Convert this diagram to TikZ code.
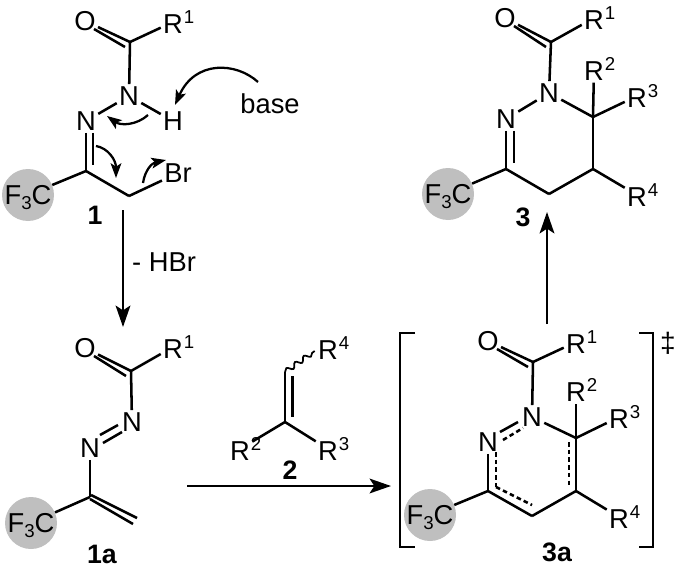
\documentclass[tikz,border=0pt]{standalone}
\usepackage{fontspec}
\setmainfont{Liberation Sans}
\usepackage{tikz}
\usetikzlibrary{arrows.meta,calc,decorations.pathmorphing}
\definecolor{cfgray}{gray}{0.75}
\newcommand{\rsup}[1]{\rlap{\hspace{0.8pt}\raisebox{7pt}{\fontsize{14}{16}\selectfont #1}}}
\newcommand{\fthree}{\makebox[0pt]{\smash{\raisebox{-7.3pt}{F\raisebox{-3.6pt}{\fontsize{14}{16}\selectfont 3}C}}}}
\begin{document}
\begin{tikzpicture}
			[x=0.75pt,y=-0.75pt,
			every node/.style={font=\fontsize{20.5}{22}\selectfont},
			a/.style={inner sep=1.6pt},
			cf/.style={circle,fill=cfgray,inner sep=0pt,minimum size=39pt},
			bond/.style={line width=1.9pt},
			dashbond/.style={line width=1.9pt,dash pattern=on 3.4pt off 2.4pt},
			wavy/.style={line width=1.3pt,decorate,decoration={snake,amplitude=1.8pt,segment length=8pt}},
			push/.style={line width=1.7pt,-{Stealth[length=11pt,width=8pt,inset=2.5pt]}},
			go/.style={line width=1.9pt,-{Stealth[length=16pt,width=11pt,inset=3.5pt]}},
			lab/.style={inner sep=0pt,font=\fontsize{20}{22}\selectfont\bfseries}]

			\useasboundingbox (0,0) rectangle (678,567);

			\node[a] (o1) at (85,21) {O};
			\node[a] (r1) at (173,22) {R\rsup{1}};
			\coordinate (c1) at (130,42);
			\node[a] (n1) at (129,96) {N};
			\node[a] (h1) at (173,121) {H};
			\node[a] (m1) at (86,121) {N};
			\coordinate (c2) at (86,171);
			\coordinate (c3) at (129,196);
			\node[a] (br) at (178,173) {Br};
			\node[cf] (f1) at (28,195) {\fthree};
			\node[lab] (l1) at (95,215) {1};
			\node (base) at (270,104) {base};

			\draw[bond] (o1) -- (c1);
			\draw[bond] ($(o1.center)+(9,8)$) -- ($(c1)+(-5,5)$);
			\draw[bond] (c1) -- (r1);
			\draw[bond] (c1) -- (n1);
			\draw[bond] (n1) -- (m1);
			\draw[bond] (n1) -- (h1);
			\draw[bond] (m1) -- (c2);
			\draw[bond] ($(m1.south)+(7,0)$) -- ($(c2)+(7,-6)$);
			\draw[bond] (f1) -- (c2);
			\draw[bond] (c2) -- (c3);
			\draw[bond] (c3) -- (br);

			\coordinate (s1) at (258,82);
			\coordinate (s2) at (148,115);
			\coordinate (s3) at (96,146);
			\coordinate (s4) at (143,183);
			\coordinate (e1) at (175,105);
			\coordinate (e2) at (107,116);
			\coordinate (e3) at (116,178);
			\coordinate (e4) at (166,160);
			\draw[push] (s1) .. controls (236,62) and (195,60) .. (e1);
			\draw[push] (s2) .. controls (137,125) and (121,126) .. (e2);
			\draw[push] (s3) .. controls (108,148) and (116,160) .. (e3);
			\draw[push] (s4) .. controls (145,170) and (152,163) .. (e4);

			\coordinate (g1) at (123,210);
			\coordinate (g2) at (123,327);
			\draw[go] (g1) -- (g2);
			\node (hbr) at (164,262) {- HBr};

			\node[a] (o2) at (85,348) {O};
			\node[a] (r2) at (173,347) {R\rsup{1}};
			\coordinate (c4) at (131,371);
			\node[a] (n2) at (132,422) {N};
			\node[a] (m2) at (90,448) {N};
			\coordinate (c5) at (90,497);
			\coordinate (c6) at (133,524);
			\coordinate (c7) at (137,518);
			\node[cf] (f2) at (31,523) {\fthree};
			\node[lab] (l2) at (102,554) {1a};

			\draw[bond] (o2) -- (c4);
			\draw[bond] ($(o2.center)+(9,8)$) -- ($(c4)+(-5,5)$);
			\draw[bond] (c4) -- (r2);
			\draw[bond] (c4) -- (n2);
			\draw[bond] ($(m2.center)+(10,-13)$) -- ($(n2.center)+(-14,3)$);
			\draw[bond] ($(m2.center)+(13,-5)$) -- ($(n2.center)+(-10,10)$);
			\draw[bond] (m2) -- (c5);
			\draw[bond] (f2) -- (c5);
			\draw[bond] ($(c5)+(0,2)$) -- (c6);
			\draw[bond] ($(c5)+(1,-2)$) -- (c7);

			\coordinate (v1) at (285,372);
			\coordinate (v2) at (285,422);
			\node[a] (r4) at (328,348) {R\rsup{4}};
			\node[a] (r5) at (240,449) {R\rsup{2}};
			\node[a] (r6) at (328,449) {R\rsup{3}};
			\node[lab] (l3) at (290,470) {2};
			\draw[bond] (v1) -- (v2);
			\draw[bond] ($(v1)+(7.5,4)$) -- ($(v2)+(7.5,-5)$);
			\draw[bond] (v2) -- (r5);
			\draw[bond] (v2) -- (r6);
			\draw[wavy] (v1) -- ($(r4.west)+(-1,3)$);

			\coordinate (g3) at (187,486);
			\coordinate (g4) at (391,486);
			\draw[go] (g3) -- (g4);

			\node[a] (o3) at (488,341) {O};
			\node[a] (r7) at (576,342) {R\rsup{1}};
			\coordinate (c8) at (533,362);
			\node[a] (n3) at (532,417) {N};
			\node[a] (m3) at (488,442) {N};
			\coordinate (c9) at (488,491);
			\coordinate (c10) at (532,516);
			\coordinate (c11) at (576,491);
			\coordinate (c12) at (576,438);
			\node[a] (r8) at (576,390) {R\rsup{2}};
			\node[a] (r9) at (619,417) {R\rsup{3}};
			\node[a] (r10) at (619,517) {R\rsup{4}};
			\node[cf] (f3) at (430,515) {\fthree};
			\node[lab] (l4) at (557,552) {3a};
			\node (dg) at (668,343) {\fontsize{21}{24}\selectfont ‡};

			\draw[bond] (o3) -- (c8);
			\draw[bond] ($(o3.center)+(9,8)$) -- ($(c8)+(-5,5)$);
			\draw[bond] (c8) -- (r7);
			\draw[bond] (c8) -- (n3);
			\draw[bond] ($(m3.center)+(12,-10)$) -- ($(n3.center)+(-14,5)$);
			\draw[dashbond] ($(m3.center)+(15,-2)$) -- ($(n3.center)+(-9,11)$);
			\draw[bond] (n3) -- (c12);
			\draw[bond] (m3) -- (c9);
			\coordinate (d1) at (496,452);
			\coordinate (d2) at (496,487);
			\coordinate (d3) at (532,505);
			\coordinate (d4) at (569,442);
			\coordinate (d5) at (569,485);
			\draw[dashbond] (d1) -- (d2);
			\draw[dashbond] (d2) -- (d3);
			\draw[dashbond] (d4) -- (d5);
			\draw[bond] (f3) -- (c9);
			\draw[bond] (c9) -- (c10);
			\draw[bond] (c10) -- (c11);
			\draw[bond] (c11) -- (c12);
			\draw[bond] (c11) -- (r10);
			\draw[bond] (c12) -- (r8);
			\draw[bond] (c12) -- (r9);

			\coordinate (b1) at (415,333);
			\coordinate (b2) at (400,333);
			\coordinate (b3) at (400,547);
			\coordinate (b4) at (415,547);
			\coordinate (b5) at (639,333);
			\coordinate (b6) at (653,333);
			\coordinate (b7) at (653,547);
			\coordinate (b8) at (639,547);
			\draw[bond] (b1) -- (b2) -- (b3) -- (b4);
			\draw[bond] (b5) -- (b6) -- (b7) -- (b8);

			\coordinate (g5) at (547,324);
			\coordinate (g6) at (547,212);
			\draw[go] (g5) -- (g6);

			\node[a] (o4) at (505,18) {O};
			\node[a] (r11) at (594,18) {R\rsup{1}};
			\coordinate (c13) at (551,42);
			\node[a] (n4) at (549,93) {N};
			\node[a] (m4) at (506,119) {N};
			\coordinate (c14) at (506,169);
			\coordinate (c15) at (549,194);
			\coordinate (c16) at (593,169);
			\coordinate (c17) at (593,117);
			\node[a] (r12) at (594,69) {R\rsup{2}};
			\node[a] (r13) at (637,96) {R\rsup{3}};
			\node[a] (r14) at (637,195) {R\rsup{4}};
			\node[cf] (f4) at (448,194) {\fthree};
			\node[lab] (l5) at (523,217) {3};

			\draw[bond] (o4) -- (c13);
			\draw[bond] ($(o4.center)+(9,8)$) -- ($(c13)+(-5,5)$);
			\draw[bond] (c13) -- (r11);
			\draw[bond] (c13) -- (n4);
			\draw[bond] (n4) -- (m4);
			\draw[bond] (n4) -- (c17);
			\draw[bond] (m4) -- (c14);
			\draw[bond] ($(m4.south)+(8,0)$) -- ($(c14)+(8,-6)$);
			\draw[bond] (f4) -- (c14);
			\draw[bond] (c14) -- (c15);
			\draw[bond] (c15) -- (c16);
			\draw[bond] (c16) -- (c17);
			\draw[bond] (c16) -- (r14);
			\draw[bond] (c17) -- (r12);
			\draw[bond] (c17) -- (r13);

		\end{tikzpicture}
\end{document}
